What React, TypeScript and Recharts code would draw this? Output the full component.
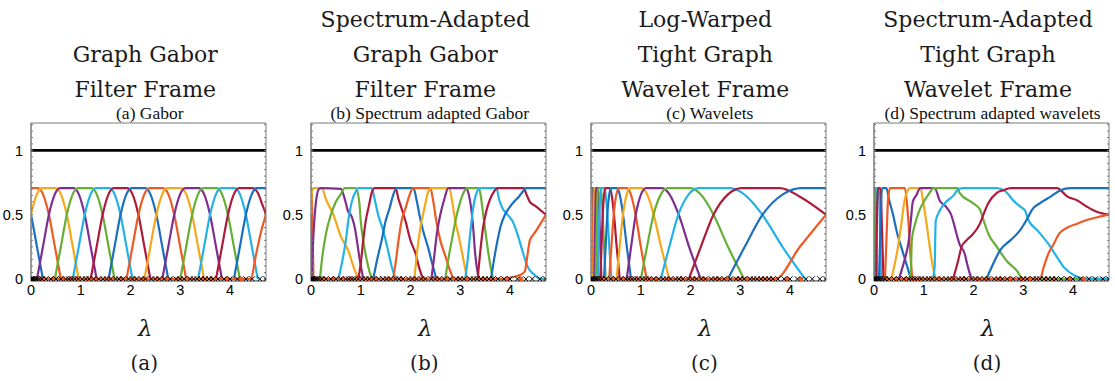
import React from "react";
import { ComposedChart, Line, Scatter, XAxis, YAxis, ReferenceArea } from "recharts";

type Pt = [number, number];
interface Curve { c: string; p: Pt[] }

const BLUE = "#1a6fbf";
const ORANGE = "#ee5a24";
const YELLOW = "#f5a81c";
const PURPLE = "#7e2f8e";
const GREEN = "#67ae35";
const CYAN = "#22b2e8";
const RED = "#ae1a3a";
const FRAME = "#7a7a7a";

const X_MAX = 4.725;
const Y_DOMAIN: [number, number] = [-0.016, 1.213];
const X_TICKS = [0, 1, 2, 3, 4];
const Y_TICKS = [0, 0.5, 1];
const X_MINOR = Array.from({ length: 48 }, (_, i) => Math.round(i * 10) / 100);
const Y_MINOR = Array.from({ length: 25 }, (_, i) => Math.round(i * 5) / 100);
const SUM_LEVEL: Pt[] = [[0, 1], [4.725, 1]];

const EIGENVALUES = [0, 0.02, 0.04, 0.07, 0.1, 0.13, 0.17, 0.22, 0.3, 0.4, 0.5, 0.6, 0.7, 0.76, 0.82, 0.88, 0.95, 1.03, 1.1, 1.17, 1.26, 1.36, 1.45, 1.52, 1.6, 1.7, 1.77, 1.85, 1.96, 2.04, 2.12, 2.22, 2.3, 2.42, 2.5, 2.58, 2.68, 2.8, 2.92, 3.0, 3.08, 3.2, 3.27, 3.34, 3.42, 3.5, 3.58, 3.66, 3.76, 3.88, 4.0, 4.15, 4.32, 4.45, 4.6, 4.72];
const MARKED = [0.26, 0.45, 0.64, 0.79, 0.92, 1.14, 1.31, 1.56, 1.81, 2.08, 2.26, 2.54, 2.74, 2.96, 3.14, 3.46, 3.62, 3.94, 4.22];

const GABOR: Curve[] = [
  { c: BLUE, p: [[-0.12, 0.66], [0, 0.5], [0.12, 0.25], [0.24, 0]] },
  { c: ORANGE, p: [[-0.14, 0.707], [0.14, 0.707], [0.24, 0.66], [0.36, 0.5], [0.48, 0.25], [0.6, 0]] },
  { c: YELLOW, p: [[-0.24, 0], [-0.12, 0.25], [0, 0.5], [0.12, 0.66], [0.22, 0.707], [0.5, 0.707], [0.6, 0.66], [0.72, 0.5], [0.84, 0.25], [0.96, 0]] },
  { c: PURPLE, p: [[0.12, 0], [0.24, 0.25], [0.36, 0.5], [0.48, 0.66], [0.58, 0.707], [0.86, 0.707], [0.96, 0.66], [1.08, 0.5], [1.2, 0.25], [1.32, 0]] },
  { c: GREEN, p: [[0.48, 0], [0.6, 0.25], [0.72, 0.5], [0.84, 0.66], [0.94, 0.707], [1.22, 0.707], [1.32, 0.66], [1.44, 0.5], [1.56, 0.25], [1.68, 0]] },
  { c: CYAN, p: [[0.84, 0], [0.96, 0.25], [1.08, 0.5], [1.2, 0.66], [1.3, 0.707], [1.58, 0.707], [1.68, 0.66], [1.8, 0.5], [1.92, 0.25], [2.04, 0]] },
  { c: RED, p: [[1.2, 0], [1.32, 0.25], [1.44, 0.5], [1.56, 0.66], [1.66, 0.707], [1.94, 0.707], [2.04, 0.66], [2.16, 0.5], [2.28, 0.25], [2.4, 0]] },
  { c: BLUE, p: [[1.56, 0], [1.68, 0.25], [1.8, 0.5], [1.92, 0.66], [2.02, 0.707], [2.3, 0.707], [2.4, 0.66], [2.52, 0.5], [2.64, 0.25], [2.76, 0]] },
  { c: ORANGE, p: [[1.92, 0], [2.04, 0.25], [2.16, 0.5], [2.28, 0.66], [2.38, 0.707], [2.66, 0.707], [2.76, 0.66], [2.88, 0.5], [3.0, 0.25], [3.12, 0]] },
  { c: YELLOW, p: [[2.28, 0], [2.4, 0.25], [2.52, 0.5], [2.64, 0.66], [2.74, 0.707], [3.02, 0.707], [3.12, 0.66], [3.24, 0.5], [3.36, 0.25], [3.48, 0]] },
  { c: PURPLE, p: [[2.64, 0], [2.76, 0.25], [2.88, 0.5], [3.0, 0.66], [3.1, 0.707], [3.38, 0.707], [3.48, 0.66], [3.6, 0.5], [3.72, 0.25], [3.84, 0]] },
  { c: GREEN, p: [[3.0, 0], [3.12, 0.25], [3.24, 0.5], [3.36, 0.66], [3.46, 0.707], [3.74, 0.707], [3.84, 0.66], [3.96, 0.5], [4.08, 0.25], [4.2, 0]] },
  { c: CYAN, p: [[3.36, 0], [3.48, 0.25], [3.6, 0.5], [3.72, 0.66], [3.82, 0.707], [4.1, 0.707], [4.2, 0.66], [4.32, 0.5], [4.44, 0.25], [4.56, 0]] },
  { c: RED, p: [[3.72, 0], [3.84, 0.25], [3.96, 0.5], [4.08, 0.66], [4.18, 0.707], [4.46, 0.707], [4.56, 0.67], [4.65, 0.58], [4.725, 0.5], [4.8, 0.4]] },
  { c: BLUE, p: [[4.08, 0], [4.2, 0.25], [4.32, 0.5], [4.44, 0.66], [4.54, 0.707], [4.82, 0.707]] },
  { c: ORANGE, p: [[0, 0], [4.42, 0], [4.52, 0.18], [4.62, 0.36], [4.725, 0.5], [4.8, 0.6]] },
];

const SA_GABOR: Curve[] = [
  { c: BLUE, p: [[0, 0.5], [0.01, 0.25], [0.02, 0]] },
  { c: ORANGE, p: [[0, 0.707], [0.01, 0.7], [0.03, 0.4], [0.05, 0]] },
  { c: YELLOW, p: [[0, 0.5], [0.02, 0.68], [0.05, 0.707], [0.22, 0.707], [0.3, 0.62], [0.45, 0.5], [0.6, 0.33], [0.75, 0.22], [0.85, 0.1], [0.95, 0]] },
  { c: PURPLE, p: [[0.01, 0], [0.05, 0.35], [0.1, 0.6], [0.16, 0.7], [0.2, 0.707], [0.6, 0.7], [0.68, 0.62], [0.75, 0.52], [0.8, 0.5], [0.88, 0.4], [0.98, 0.15], [1.05, 0]] },
  { c: GREEN, p: [[0.18, 0], [0.22, 0.15], [0.3, 0.35], [0.4, 0.5], [0.5, 0.6], [0.6, 0.66], [0.68, 0.707], [0.9, 0.707], [0.97, 0.6], [1.0, 0.45], [1.05, 0.3], [1.12, 0.15], [1.2, 0.03], [1.25, 0]] },
  { c: CYAN, p: [[0.55, 0], [0.62, 0.12], [0.7, 0.3], [0.76, 0.48], [0.82, 0.6], [0.9, 0.68], [0.95, 0.707], [1.22, 0.707], [1.28, 0.62], [1.35, 0.5], [1.45, 0.38], [1.55, 0.22], [1.62, 0.1], [1.7, 0]] },
  { c: RED, p: [[0.95, 0], [1.0, 0.12], [1.05, 0.3], [1.1, 0.45], [1.17, 0.58], [1.22, 0.67], [1.28, 0.707], [1.7, 0.707], [1.76, 0.62], [1.82, 0.55], [1.9, 0.45], [2.0, 0.3], [2.1, 0.2], [2.18, 0.08], [2.25, 0]] },
  { c: BLUE, p: [[1.25, 0], [1.33, 0.15], [1.42, 0.3], [1.5, 0.45], [1.58, 0.55], [1.65, 0.65], [1.72, 0.707], [2.06, 0.707], [2.12, 0.62], [2.18, 0.5], [2.25, 0.38], [2.35, 0.25], [2.45, 0.1], [2.52, 0]] },
  { c: ORANGE, p: [[1.65, 0], [1.7, 0.12], [1.76, 0.3], [1.82, 0.45], [1.9, 0.55], [1.98, 0.65], [2.05, 0.707], [2.4, 0.707], [2.46, 0.6], [2.52, 0.45], [2.6, 0.3], [2.7, 0.18], [2.8, 0.06], [2.86, 0]] },
  { c: YELLOW, p: [[2.08, 0], [2.13, 0.2], [2.2, 0.4], [2.28, 0.55], [2.36, 0.68], [2.42, 0.707], [2.78, 0.707], [2.84, 0.6], [2.9, 0.45], [2.96, 0.35], [3.04, 0.2], [3.1, 0.08], [3.14, 0]] },
  { c: PURPLE, p: [[2.42, 0], [2.47, 0.15], [2.53, 0.35], [2.6, 0.5], [2.68, 0.62], [2.76, 0.707], [3.12, 0.707], [3.17, 0.66], [3.22, 0.55], [3.26, 0.4], [3.3, 0.2], [3.35, 0.05], [3.38, 0]] },
  { c: GREEN, p: [[2.7, 0], [2.76, 0.15], [2.84, 0.32], [2.92, 0.48], [3.0, 0.6], [3.08, 0.68], [3.14, 0.707], [3.38, 0.707], [3.43, 0.6], [3.48, 0.45], [3.53, 0.3], [3.6, 0.12], [3.66, 0]] },
  { c: CYAN, p: [[3.1, 0], [3.15, 0.15], [3.2, 0.35], [3.26, 0.55], [3.32, 0.66], [3.4, 0.707], [3.73, 0.707], [3.78, 0.62], [3.85, 0.55], [3.95, 0.5], [4.05, 0.45], [4.15, 0.35], [4.25, 0.22], [4.35, 0.1], [4.5, 0.03], [4.6, 0], [4.725, 0]] },
  { c: RED, p: [[3.35, 0], [3.4, 0.2], [3.46, 0.4], [3.52, 0.52], [3.6, 0.62], [3.68, 0.68], [3.75, 0.707], [4.28, 0.707], [4.33, 0.66], [4.4, 0.6], [4.5, 0.57], [4.6, 0.54], [4.725, 0.5]] },
  { c: BLUE, p: [[3.62, 0], [3.68, 0.15], [3.75, 0.3], [3.82, 0.42], [3.9, 0.5], [3.98, 0.55], [4.08, 0.6], [4.18, 0.64], [4.26, 0.68], [4.32, 0.707], [4.725, 0.707]] },
  { c: ORANGE, p: [[0, 0], [3.9, 0], [4.0, 0.01], [4.2, 0.03], [4.3, 0.06], [4.35, 0.18], [4.4, 0.3], [4.5, 0.36], [4.6, 0.42], [4.725, 0.5]] },
];

const WAVELETS: Curve[] = [
  { c: BLUE, p: [[0, 0.707], [0.03, 0.707], [0.035, 0.66], [0.044, 0.5], [0.05, 0.25], [0.06, 0]] },
  { c: ORANGE, p: [[0.035, 0], [0.039, 0.25], [0.044, 0.5], [0.049, 0.66], [0.053, 0.707], [0.07, 0.707], [0.076, 0.66], [0.085, 0.5], [0.095, 0.25], [0.107, 0]] },
  { c: YELLOW, p: [[0.049, 0], [0.055, 0.25], [0.061, 0.5], [0.069, 0.66], [0.075, 0.707], [0.098, 0.707], [0.108, 0.66], [0.12, 0.5], [0.135, 0.25], [0.151, 0]] },
  { c: PURPLE, p: [[0.068, 0], [0.077, 0.25], [0.086, 0.5], [0.096, 0.66], [0.105, 0.707], [0.137, 0.707], [0.15, 0.66], [0.168, 0.5], [0.188, 0.25], [0.21, 0]] },
  { c: GREEN, p: [[0.096, 0], [0.108, 0.25], [0.12, 0.5], [0.134, 0.66], [0.147, 0.707], [0.192, 0.707], [0.21, 0.66], [0.235, 0.5], [0.263, 0.25], [0.294, 0]] },
  { c: CYAN, p: [[0.134, 0], [0.15, 0.25], [0.168, 0.5], [0.188, 0.66], [0.206, 0.707], [0.268, 0.707], [0.294, 0.66], [0.329, 0.5], [0.368, 0.25], [0.411, 0]] },
  { c: RED, p: [[0.188, 0], [0.211, 0.25], [0.236, 0.5], [0.264, 0.66], [0.289, 0.707], [0.376, 0.707], [0.413, 0.66], [0.462, 0.5], [0.516, 0.25], [0.578, 0]] },
  { c: BLUE, p: [[0.262, 0], [0.294, 0.25], [0.328, 0.5], [0.368, 0.66], [0.403, 0.707], [0.524, 0.707], [0.575, 0.66], [0.644, 0.5], [0.72, 0.25], [0.805, 0]] },
  { c: ORANGE, p: [[0.365, 0], [0.41, 0.25], [0.457, 0.5], [0.512, 0.66], [0.561, 0.707], [0.73, 0.707], [0.8, 0.66], [0.896, 0.5], [1.002, 0.25], [1.12, 0]] },
  { c: YELLOW, p: [[0.513, 0], [0.576, 0.25], [0.643, 0.5], [0.72, 0.66], [0.789, 0.707], [1.026, 0.707], [1.125, 0.66], [1.26, 0.5], [1.409, 0.25], [1.575, 0]] },
  { c: PURPLE, p: [[0.718, 0], [0.806, 0.25], [0.9, 0.5], [1.008, 0.66], [1.105, 0.707], [1.436, 0.707], [1.575, 0.66], [1.764, 0.5], [1.972, 0.25], [2.205, 0]] },
  { c: GREEN, p: [[1.003, 0], [1.126, 0.25], [1.257, 0.5], [1.408, 0.66], [1.544, 0.707], [2.006, 0.707], [2.2, 0.66], [2.464, 0.5], [2.754, 0.25], [3.08, 0]] },
  { c: CYAN, p: [[1.402, 0], [1.574, 0.25], [1.756, 0.5], [1.968, 0.66], [2.157, 0.707], [2.804, 0.707], [3.075, 0.66], [3.444, 0.5], [3.85, 0.25], [4.305, 0]] },
  { c: RED, p: [[1.967, 0], [2.208, 0.25], [2.463, 0.5], [2.76, 0.66], [3.026, 0.707], [3.8, 0.707], [4.2, 0.64], [4.725, 0.5]] },
  { c: BLUE, p: [[2.753, 0], [3.091, 0.25], [3.449, 0.5], [3.864, 0.66], [4.236, 0.707], [4.8, 0.707]] },
  { c: ORANGE, p: [[0, 0], [3.7, 0], [4.2, 0.25], [4.725, 0.5]] },
];

const SA_WAVELETS: Curve[] = [
  { c: BLUE, p: [[0, 0.5], [0.004, 0]] },
  { c: ORANGE, p: [[0, 0.707], [0.008, 0.707], [0.015, 0]] },
  { c: YELLOW, p: [[0, 0.5], [0.006, 0.707], [0.015, 0.707], [0.025, 0]] },
  { c: PURPLE, p: [[0.003, 0], [0.01, 0.707], [0.025, 0.707], [0.04, 0]] },
  { c: GREEN, p: [[0.008, 0], [0.02, 0.707], [0.04, 0.707], [0.06, 0]] },
  { c: CYAN, p: [[0.03, 0], [0.045, 0.5], [0.06, 0.707], [0.1, 0.707], [0.12, 0.4], [0.14, 0]] },
  { c: RED, p: [[0.04, 0], [0.06, 0.5], [0.08, 0.707], [0.13, 0.707], [0.16, 0.4], [0.19, 0]] },
  { c: BLUE, p: [[0.1, 0], [0.13, 0.4], [0.16, 0.707], [0.25, 0.707], [0.3, 0.62], [0.37, 0.52], [0.47, 0.35], [0.57, 0.22], [0.68, 0.08], [0.74, 0]] },
  { c: ORANGE, p: [[0.22, 0], [0.25, 0.3], [0.28, 0.6], [0.32, 0.707], [0.62, 0.707], [0.66, 0.6], [0.7, 0.4], [0.73, 0.2], [0.76, 0.05], [0.78, 0]] },
  { c: YELLOW, p: [[0.35, 0], [0.42, 0.12], [0.47, 0.22], [0.54, 0.4], [0.61, 0.6], [0.68, 0.69], [0.72, 0.707], [0.94, 0.707], [0.98, 0.62], [1.05, 0.45], [1.11, 0.28], [1.18, 0.1], [1.25, 0]] },
  { c: PURPLE, p: [[0.5, 0], [0.58, 0.1], [0.65, 0.2], [0.7, 0.3], [0.74, 0.45], [0.78, 0.6], [0.85, 0.65], [0.93, 0.707], [1.22, 0.707], [1.32, 0.61], [1.45, 0.56], [1.55, 0.5], [1.66, 0.35], [1.72, 0.27], [1.82, 0.2], [1.89, 0.09], [1.96, 0]] },
  { c: GREEN, p: [[0.7, 0], [0.74, 0.05], [0.76, 0.3], [0.82, 0.42], [0.9, 0.52], [1.0, 0.6], [1.1, 0.66], [1.2, 0.707], [1.68, 0.707], [1.72, 0.67], [1.99, 0.59], [2.13, 0.54], [2.2, 0.46], [2.3, 0.35], [2.47, 0.25], [2.67, 0.14], [2.87, 0.065], [3.0, 0], [4.725, 0]] },
  { c: CYAN, p: [[1.18, 0], [1.22, 0.1], [1.24, 0.45], [1.32, 0.53], [1.45, 0.6], [1.6, 0.65], [1.7, 0.7], [1.8, 0.707], [2.47, 0.707], [2.65, 0.68], [2.8, 0.61], [2.95, 0.56], [3.04, 0.53], [3.1, 0.46], [3.28, 0.38], [3.51, 0.27], [3.68, 0.17], [3.82, 0.09], [4.02, 0.03], [4.29, 0], [4.725, 0]] },
  { c: RED, p: [[1.59, 0], [1.69, 0.14], [1.76, 0.25], [1.86, 0.3], [1.99, 0.35], [2.13, 0.43], [2.2, 0.5], [2.3, 0.59], [2.47, 0.67], [2.6, 0.69], [2.75, 0.707], [3.68, 0.707], [3.89, 0.64], [4.09, 0.61], [4.29, 0.56], [4.49, 0.52], [4.725, 0.5]] },
  { c: BLUE, p: [[2.26, 0], [2.4, 0.12], [2.53, 0.22], [2.74, 0.3], [2.94, 0.38], [3.07, 0.46], [3.18, 0.54], [3.34, 0.59], [3.55, 0.64], [3.75, 0.69], [3.95, 0.707], [4.725, 0.707]] },
  { c: ORANGE, p: [[0, 0], [3.34, 0], [3.41, 0.09], [3.51, 0.2], [3.61, 0.27], [3.72, 0.35], [3.89, 0.4], [4.09, 0.43], [4.29, 0.46], [4.49, 0.48], [4.725, 0.5]] },
];

interface PanelDef { left: number; title: string[]; sub: string; tag: string; curves: Curve[] }

const PANELS: PanelDef[] = [
  { left: 32.3, title: ["", "Graph Gabor", "Filter Frame"], sub: "(a) Gabor", tag: "(a)", curves: GABOR },
  { left: 312.3, title: ["Spectrum-Adapted", "Graph Gabor", "Filter Frame"], sub: "(b) Spectrum adapted Gabor", tag: "(b)", curves: SA_GABOR },
  { left: 592.3, title: ["Log-Warped", "Tight Graph", "Wavelet Frame"], sub: "(c) Wavelets", tag: "(c)", curves: WAVELETS },
  { left: 875, title: ["Spectrum-Adapted", "Tight Graph", "Wavelet Frame"], sub: "(d) Spectrum adapted wavelets", tag: "(d)", curves: SA_WAVELETS },
];

const toRows = (p: Pt[]) => p.map(([x, y]) => ({ x, y }));
const NoTick = () => <g />;

const XMark = (props: any) => {
  const { cx, cy } = props;
  if (cx == null || cy == null) return <g />;
  const s = 2.6;
  return <path d={`M${cx - s},${cy - s}L${cx + s},${cy + s}M${cx - s},${cy + s}L${cx + s},${cy - s}`} stroke="#000" strokeWidth={1} fill="none" />;
};
const ODot = (props: any) => {
  const { cx, cy } = props;
  if (cx == null || cy == null) return <g />;
  return <circle cx={cx} cy={cy} r={2.4} fill={ORANGE} />;
};

const tickFont = { fontSize: 14.5, fill: "#000", fontFamily: "Liberation Sans, Arial, sans-serif" };

function Panel({ p }: { p: PanelDef }) {
  return (
    <div style={{ position: "absolute", left: p.left - 30, top: 118 }}>
      <ComposedChart width={269} height={185} margin={{ top: 5, right: 5, bottom: 0, left: 0 }}>
        <XAxis type="number" dataKey="x" domain={[0, X_MAX]} ticks={X_TICKS} interval={0} allowDataOverflow
          tickLine={false} tickSize={0} tickMargin={4} axisLine={{ stroke: FRAME }} height={22} tick={tickFont} />
        <XAxis xAxisId="top" orientation="top" mirror type="number" domain={[0, X_MAX]} ticks={X_MINOR} interval={0} height={1}
          allowDataOverflow tick={NoTick} tickSize={2} tickLine={{ stroke: FRAME }} axisLine={false} />
        <XAxis xAxisId="bm" orientation="bottom" mirror type="number" domain={[0, X_MAX]} ticks={X_MINOR} interval={0} height={1}
          allowDataOverflow tick={NoTick} tickSize={2} tickLine={{ stroke: FRAME }} axisLine={false} />
        <YAxis type="number" domain={Y_DOMAIN} ticks={Y_TICKS} interval={0} allowDataOverflow width={29}
          tickLine={false} tickSize={0} tickMargin={8} axisLine={{ stroke: FRAME }} tick={tickFont} />
        <YAxis yAxisId="lm" orientation="left" mirror type="number" domain={Y_DOMAIN} ticks={Y_MINOR} interval={0} width={1}
          allowDataOverflow tick={NoTick} tickSize={2} tickLine={{ stroke: FRAME }} axisLine={false} />
        <YAxis yAxisId="rm" orientation="right" mirror type="number" domain={Y_DOMAIN} ticks={Y_MINOR} interval={0} width={1}
          allowDataOverflow tick={NoTick} tickSize={2} tickLine={{ stroke: FRAME }} axisLine={false} />
        <ReferenceArea x1={0} x2={X_MAX} y1={Y_DOMAIN[0]} y2={Y_DOMAIN[1]} fill="none" stroke={FRAME} strokeWidth={1} ifOverflow="visible" />
        <Line data={toRows(SUM_LEVEL)} dataKey="y" type="linear" stroke="#000" strokeWidth={2.6} dot={false} isAnimationActive={false} />
        {p.curves.map((cv, i) => (
          <Line key={i} data={toRows(cv.p)} dataKey="y" type="monotone" stroke={cv.c} strokeWidth={2.2} dot={false} isAnimationActive={false} />
        ))}
        <Scatter data={MARKED.map((x) => ({ x, y: 0 }))} dataKey="y" shape={ODot} isAnimationActive={false} />
        <Scatter data={EIGENVALUES.map((x) => ({ x, y: 0 }))} dataKey="y" shape={XMark} isAnimationActive={false} />
      </ComposedChart>
    </div>
  );
}

export default function App() {
  const serif = "DejaVu Serif, serif";
  return (
    <div style={{ position: "absolute", left: 0, top: 0, width: 1115, height: 381, background: "#fff", overflow: "hidden" }}>
      {PANELS.map((p, i) => <Panel key={i} p={p} />)}
      <svg width={1115} height={381} style={{ position: "absolute", left: 0, top: 0, pointerEvents: "none" }}>
        {PANELS.map((p, i) => (
          <g key={i}>
            {p.title.map((t, j) => (
              <text key={j} x={p.left + 113} y={27 + 35 * j} textAnchor="middle" fontFamily={serif} fontSize={22} fill="#1a1a1a">{t}</text>
            ))}
            <text x={p.left + 117.5} y={119} textAnchor="middle" fontFamily="Liberation Serif, serif" fontSize={17.5} fill="#111">{p.sub}</text>
            <text x={p.left + 113} y={336} textAnchor="middle" fontFamily={serif} fontStyle="italic" fontSize={23} fill="#1a1a1a">λ</text>
            <text x={p.left + 112} y={370} textAnchor="middle" fontFamily={serif} fontSize={20} fill="#1a1a1a">{p.tag}</text>
          </g>
        ))}
      </svg>
    </div>
  );
}
